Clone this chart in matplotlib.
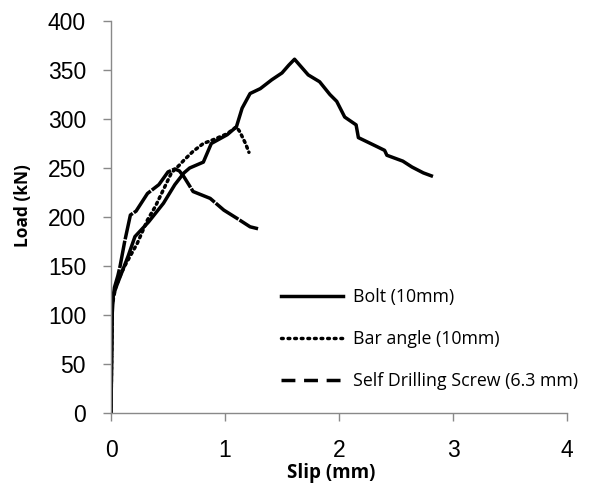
import matplotlib
matplotlib.use("Agg")
import matplotlib.pyplot as plt
from matplotlib.lines import Line2D

bolt_x = [0, 0.01, 0.02, 0.05, 0.10, 0.15, 0.21, 0.33, 0.46, 0.56, 0.64, 0.69, 0.81, 0.88, 1.02, 1.10,
          1.15, 1.22, 1.31, 1.41, 1.50, 1.56, 1.61, 1.64, 1.73, 1.83, 1.92, 1.98, 2.05, 2.15, 2.17,
          2.33, 2.40, 2.42, 2.56, 2.64, 2.74, 2.81]
bolt_y = [0, 100, 120, 130, 145, 160, 180, 195, 214, 233, 245, 250, 256, 275, 284, 292,
          311, 326, 331, 340, 347, 355, 361, 357, 345, 338, 325, 318, 302, 294, 281,
          272, 268, 263, 257, 251, 245, 242]

bar_x = [0, 0.01, 0.04, 0.08, 0.12, 0.23, 0.32, 0.39, 0.46, 0.53, 0.60, 0.64, 0.72, 0.81, 0.90,
         1.02, 1.10, 1.13, 1.18, 1.21]
bar_y = [0, 110, 128, 140, 150, 173, 197, 211, 228, 245, 253, 258, 267, 275, 279,
         285, 292, 287, 275, 266]

screw_x = [0, 0.01, 0.03, 0.06, 0.08, 0.12, 0.17, 0.22, 0.27, 0.32, 0.42, 0.50, 0.56, 0.60,
           0.64, 0.72, 0.87, 0.99, 1.10, 1.22, 1.29]
screw_y = [0, 110, 128, 140, 150, 175, 202, 206, 215, 224, 233, 246, 249, 247,
           241, 226, 219, 207, 199, 190, 188]

labels = ["Bolt (10mm)", "Bar angle (10mm)", "Self Drilling Screw (6.3 mm)"]
x_ticks = [0, 1, 2, 3, 4]
y_ticks = [0, 50, 100, 150, 200, 250, 300, 350, 400]

fig = plt.figure(figsize=(5.89, 4.92), dpi=100)
ax = fig.add_axes([111/589, 1-413/492, (567-111)/589, (413-21)/492])

lw = 2.5
ax.plot(bolt_x, bolt_y, color="black", lw=lw, solid_joinstyle="round")
ax.plot(bar_x, bar_y, color="black", lw=lw, linestyle=(0, (0.6, 1.2)), dash_capstyle="round")
ax.plot(screw_x, screw_y, color="black", lw=lw, linestyle=(0, (8, 0.4)))

ax.set_xlim(0, 4)
ax.set_ylim(0, 400)
ax.set_xticks(x_ticks)
ax.set_yticks(y_ticks)
ax.set_xticklabels([str(v) for v in x_ticks], fontsize=16.5, family="Liberation Sans")
ax.set_yticklabels([str(v) for v in y_ticks], fontsize=16.5, family="Liberation Sans")
for s in ["top", "right"]:
    ax.spines[s].set_visible(False)
for s in ["left", "bottom"]:
    ax.spines[s].set_color("#898989")
    ax.spines[s].set_linewidth(1.0)
ax.tick_params(axis="both", direction="out", length=6, width=1.0, color="#898989")
ax.tick_params(axis="x", pad=13)
ax.tick_params(axis="y", pad=12)
ax.set_xlabel("Slip (mm)", fontsize=13.5, fontweight="bold", family="Open Sans")
ax.set_ylabel("Load (kN)", fontsize=12.5, fontweight="bold", family="Open Sans")
ax.xaxis.set_label_coords((331-111)/456, (413-463)/392)
ax.yaxis.set_label_coords((32-111)/456, (413-206)/392)

handles = [
    Line2D([], [], color="black", lw=2.5),
    Line2D([], [], color="black", lw=2.5, linestyle=(0, (0.5, 1.4)), dash_capstyle="round"),
    Line2D([], [], color="black", lw=2.5, linestyle=(0, (4, 2.5))),
]
leg = ax.legend(handles, labels, loc="upper left", bbox_to_anchor=(281/589, 1-288/492),
                bbox_transform=fig.transFigure, frameon=False,
                prop={"family": "Open Sans", "size": 12.8}, handlelength=3.5,
                handletextpad=0.55, labelspacing=1.35, borderpad=0, borderaxespad=0)

fig.savefig("out.png", dpi=100)
